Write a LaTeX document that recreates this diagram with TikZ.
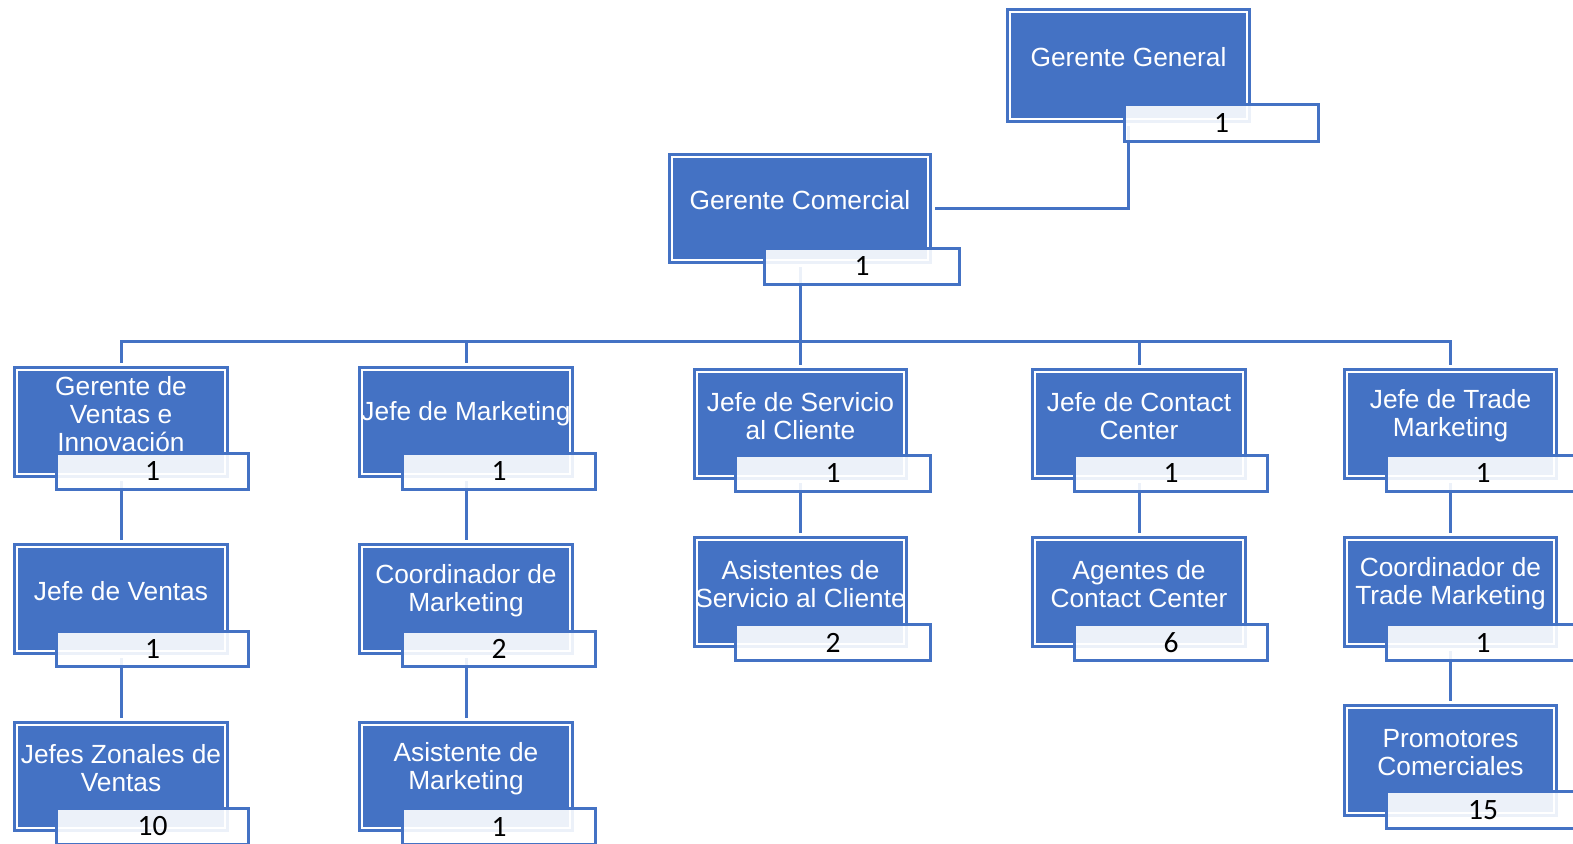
\documentclass[tikz,border=0pt]{standalone}
\usepackage{fontspec}
\setmainfont{Liberation Sans}
\newfontfamily\numfont{Carlito}
\usetikzlibrary{backgrounds,calc}
\definecolor{boxblue}{HTML}{4472C4}
\tikzset{
  unit/.style={draw=boxblue, fill=boxblue, line width=1.5pt, inner sep=0pt, outer sep=0pt,
    preaction={draw=white, line width=8pt},
    path picture={\draw[white, line width=2.6pt]
      ([shift={(3.2pt,3.2pt)}]path picture bounding box.south west) rectangle
      ([shift={(-3.2pt,-3.2pt)}]path picture bounding box.north east);}},
  unittext/.style={text=white, align=center, inner sep=0pt,
    font=\fontsize{26.3}{28}\selectfont},
  count/.style={draw=boxblue, line width=3pt, fill=white, fill opacity=0.9,
    text opacity=1, inner sep=0pt, text=black,
    font=\numfont\fontsize{29.5}{32}\selectfont},
  conn/.style={draw=boxblue, line width=3pt},
}
% position box: name, left, top, right, bottom, title
\newcommand\orgunit[6]{%
  \node[unit, minimum width={(#4-#2-1.5)*1pt}, minimum height={(#5-#3-1.5)*1pt}]
    (#1) at ({(#2+#4)/2},{(#3+#5)/2}) {};
  \node[unittext] (#1-t) at ([yshift=8pt]#1.center) {#6};
}
% head-count tab: name, left, top, right, bottom, number
\newcommand\orgcount[6]{%
  \node[count, minimum width={(#4-#2-3)*1pt}, minimum height={(#5-#3-3)*1pt}]
    (#1) at ({(#2+#4)/2},{(#3+#5)/2}) {#6};
}
\begin{document}
\begin{tikzpicture}[x=1pt, y=-1pt]
\useasboundingbox (0,0) rectangle (1573,843);

% top management
\orgunit{gg}{1006}{8}{1251}{123}{Gerente General}
\orgcount{gg-n}{1123}{103}{1320}{143}{1}
\orgunit{gc}{668}{153}{932}{264}{Gerente Comercial}
\orgcount{gc-n}{763}{247}{961}{286}{1}

% department heads
\orgunit{gv}{13}{366}{229}{478}{Gerente de\\Ventas e\\Innovación}
\orgcount{gv-n}{55}{452}{250}{491}{1}
\orgunit{jm}{358}{366}{574}{478}{Jefe de Marketing}
\orgcount{jm-n}{401}{452}{597}{491}{1}
\orgunit{js}{693}{368}{908}{480}{Jefe de Servicio\\al Cliente}
\orgcount{js-n}{734}{454}{932}{493}{1}
\orgunit{jc}{1031}{368}{1247}{480}{Jefe de Contact\\Center}
\orgcount{jc-n}{1073}{454}{1269}{493}{1}
\orgunit{jt}{1343}{368}{1558}{480}{Jefe de Trade\\Marketing}
\orgcount{jt-n}{1385}{454}{1581}{493}{1}

% third level
\orgunit{jve}{13}{543}{229}{655}{Jefe de Ventas}
\orgcount{jve-n}{55}{630}{250}{668}{1}
\orgunit{cm}{358}{543}{574}{655}{Coordinador de\\Marketing}
\orgcount{cm-n}{401}{630}{597}{668}{2}
\orgunit{as}{693}{536}{908}{648}{Asistentes de\\Servicio al Cliente}
\orgcount{as-n}{734}{623}{932}{662}{2}
\orgunit{ag}{1031}{536}{1247}{648}{Agentes de\\Contact Center}
\orgcount{ag-n}{1073}{623}{1269}{662}{6}
\orgunit{ct}{1343}{536}{1558}{648}{Coordinador de\\Trade Marketing}
\orgcount{ct-n}{1385}{623}{1581}{662}{1}

% fourth level
\orgunit{jz}{13}{721}{229}{832}{Jefes Zonales de\\Ventas}
\orgcount{jz-n}{55}{807}{250}{846}{10}
\orgunit{am}{358}{721}{574}{832}{Asistente de\\Marketing}
\orgcount{am-n}{401}{807}{597}{846}{1}
\orgunit{pc}{1343}{704}{1558}{817}{Promotores\\Comerciales}
\orgcount{pc-n}{1385}{790}{1581}{830}{15}

\begin{scope}[on background layer]
  \fill[white] (0,0) rectangle (1573,843);
  \coordinate (bus) at (0,341);
  \draw[conn] (gg.center) |- (gc.center);
  \foreach \c in {gv,jm,js,jc,jt}
    \draw[conn] (gc.center) |- (bus -| \c.center) -- (\c.center);
  \draw[conn] (gv.center) -- (jve.center) -- (jz.center);
  \draw[conn] (jm.center) -- (cm.center) -- (am.center);
  \draw[conn] (js.center) -- (as.center);
  \draw[conn] (jc.center) -- (ag.center);
  \draw[conn] (jt.center) -- (ct.center) -- (pc.center);
\end{scope}
\end{tikzpicture}
\end{document}
